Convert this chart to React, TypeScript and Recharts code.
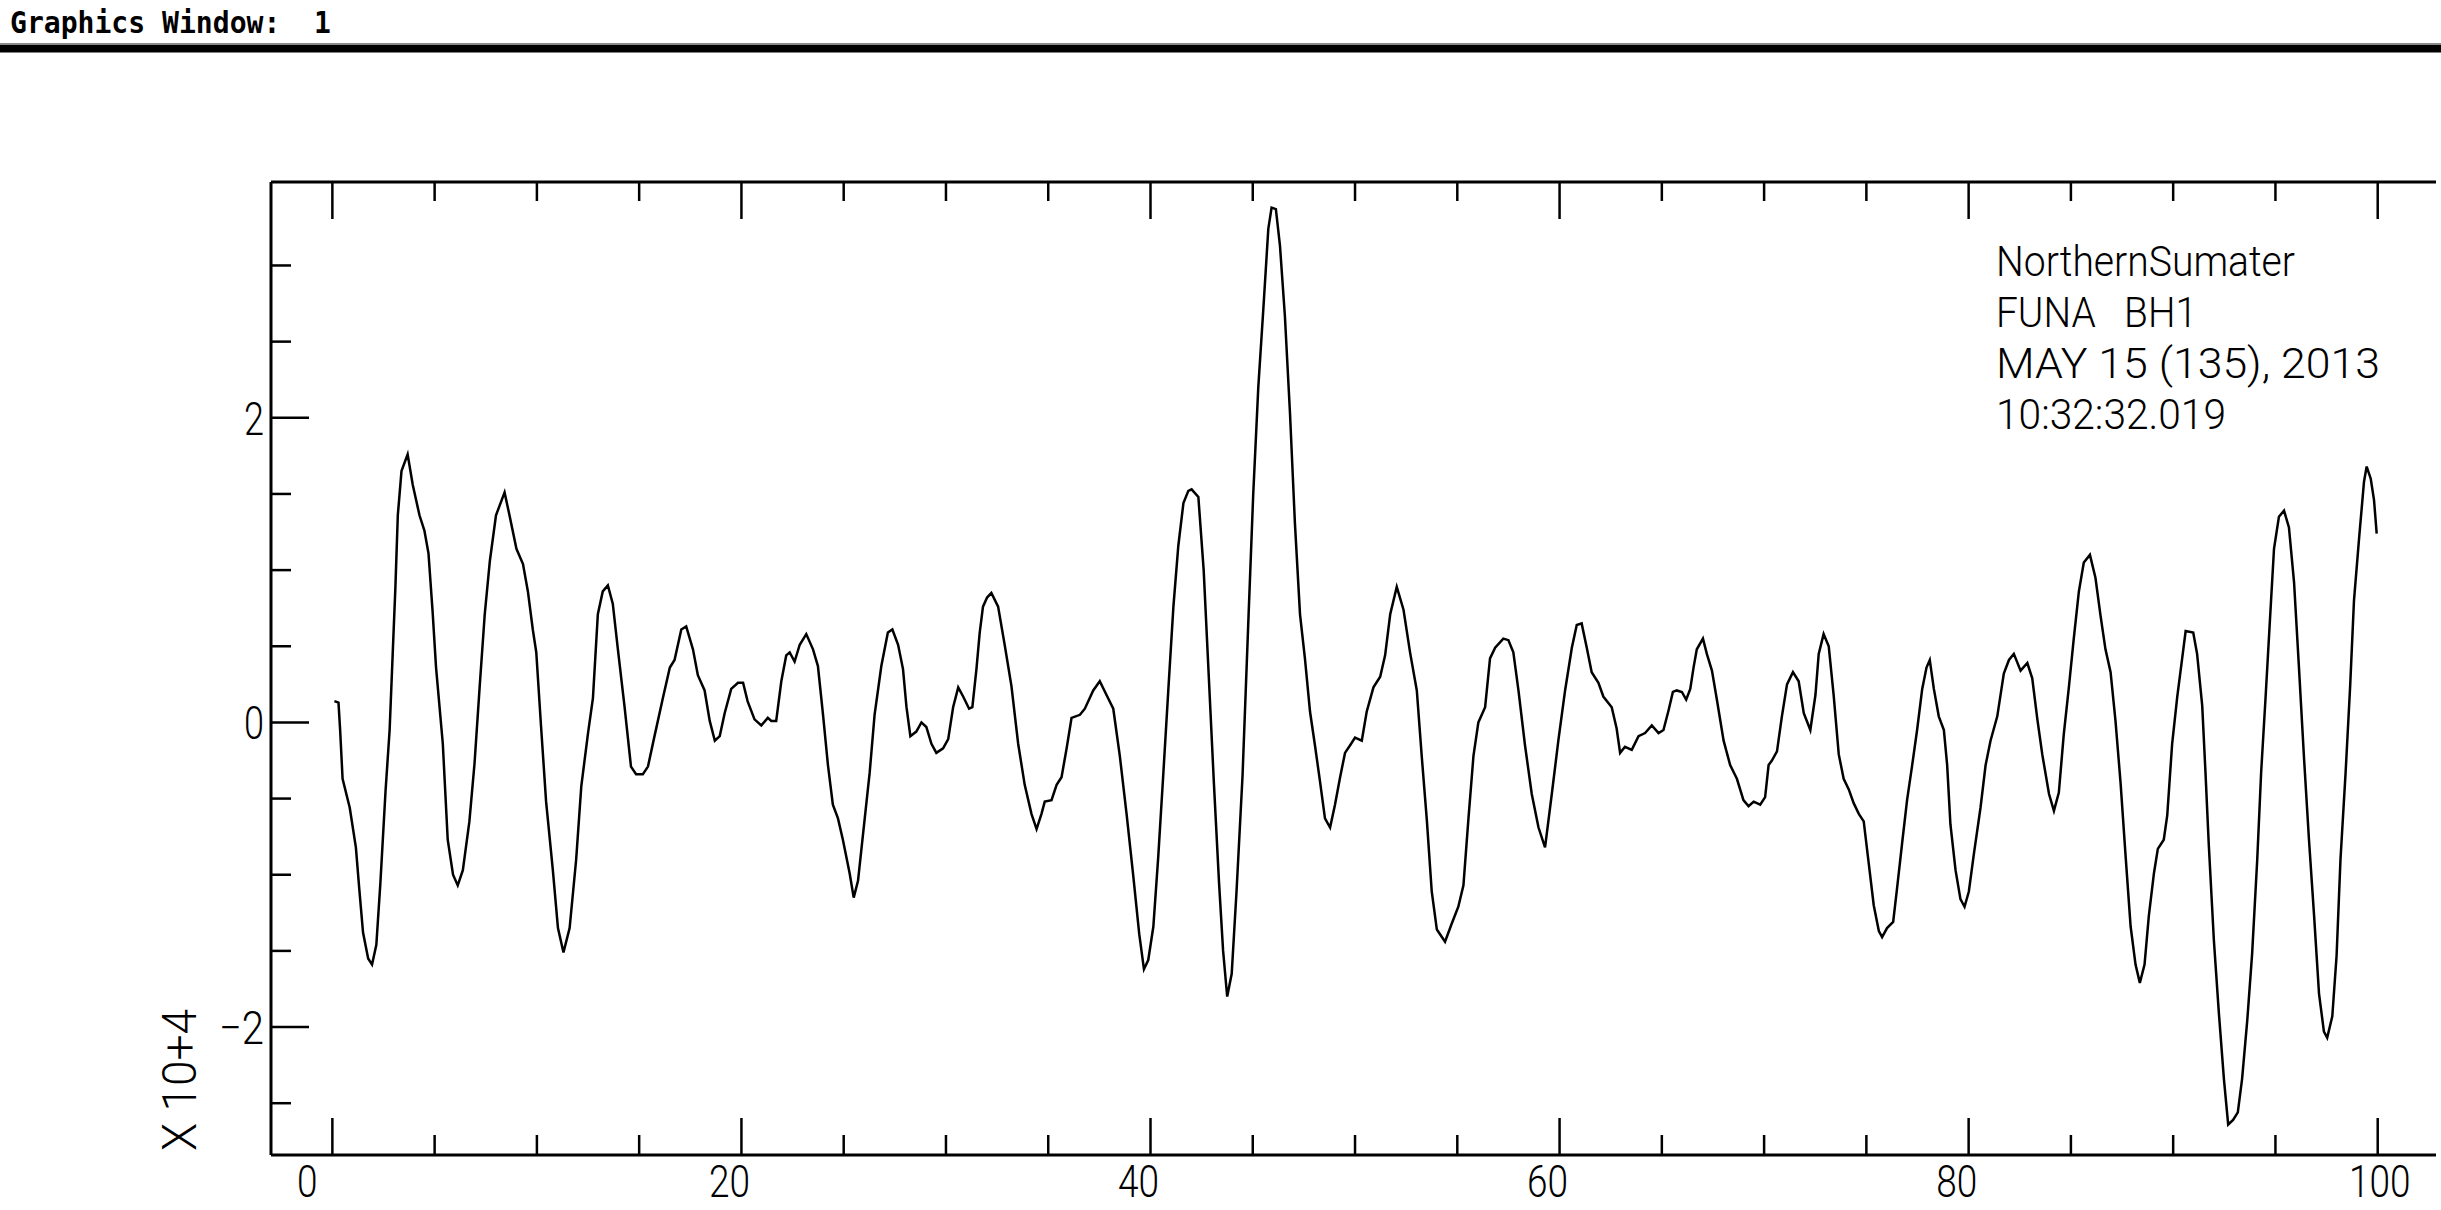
import React from "react";
import { LineChart, Line, XAxis, YAxis, Customized } from "recharts";

// seismogram trace: [time, amplitude x 10^4]
const TRACE_0_20: [number, number][] = [
  [0.1, 0.14], [0.3, 0.13], [0.38, -0.05], [0.5, -0.37], [0.85, -0.56], [1.15, -0.82],
  [1.32, -1.1], [1.5, -1.38], [1.75, -1.55], [1.94, -1.59], [2.15, -1.46], [2.35, -1.05],
  [2.6, -0.45], [2.8, -0.05], [2.95, 0.45], [3.08, 0.88], [3.2, 1.36], [3.38, 1.65],
  [3.68, 1.76], [3.93, 1.56], [4.26, 1.36], [4.5, 1.26], [4.7, 1.11], [4.9, 0.73],
  [5.07, 0.36], [5.4, -0.14], [5.64, -0.77], [5.9, -1.0], [6.13, -1.07], [6.38, -0.97],
  [6.7, -0.65], [6.95, -0.27], [7.2, 0.23], [7.45, 0.71], [7.7, 1.06], [8.0, 1.36],
  [8.42, 1.51], [8.66, 1.36], [9.0, 1.14], [9.32, 1.04], [9.56, 0.86], [9.8, 0.61],
  [9.97, 0.46], [10.2, -0.02], [10.45, -0.52], [10.78, -0.97], [11.03, -1.35], [11.3, -1.51],
  [11.6, -1.35], [11.92, -0.9], [12.17, -0.42], [12.5, -0.07], [12.74, 0.16], [12.98, 0.71],
  [13.22, 0.86], [13.47, 0.9], [13.71, 0.78], [13.96, 0.48], [14.28, 0.11], [14.6, -0.29],
  [14.85, -0.34], [15.18, -0.34], [15.43, -0.29], [15.75, -0.09], [16.16, 0.16], [16.5, 0.36],
  [16.73, 0.41], [17.06, 0.61], [17.3, 0.63], [17.63, 0.48], [17.87, 0.31], [18.2, 0.21],
  [18.45, 0.01], [18.7, -0.12], [18.94, -0.09], [19.18, 0.06], [19.5, 0.22], [19.83, 0.26],
  [20.08, 0.26], [20.3, 0.14],
];

const TRACE_20_42: [number, number][] = [
  [20.64, 0.02], [20.97, -0.02], [21.29, 0.03], [21.46, 0.01], [21.7, 0.01], [21.95, 0.27],
  [22.19, 0.44], [22.36, 0.46], [22.6, 0.4], [22.85, 0.51], [23.17, 0.58], [23.5, 0.48],
  [23.74, 0.37], [23.99, 0.05], [24.23, -0.28], [24.47, -0.54], [24.72, -0.63], [24.96, -0.77],
  [25.29, -0.99], [25.49, -1.15], [25.7, -1.04], [25.94, -0.74], [26.27, -0.33], [26.51, 0.05],
  [26.84, 0.37], [27.16, 0.59], [27.38, 0.61], [27.66, 0.51], [27.9, 0.35], [28.07, 0.1],
  [28.26, -0.09], [28.55, -0.06], [28.8, 0.0], [29.04, -0.03], [29.29, -0.14], [29.53, -0.2],
  [29.86, -0.17], [30.11, -0.11], [30.35, 0.1], [30.6, 0.23], [30.84, 0.17], [31.13, 0.09],
  [31.29, 0.1], [31.49, 0.35], [31.65, 0.59], [31.81, 0.76], [32.01, 0.82], [32.22, 0.85],
  [32.55, 0.76], [32.87, 0.51], [33.2, 0.24], [33.53, -0.14], [33.85, -0.41], [34.18, -0.6],
  [34.43, -0.7], [34.67, -0.6], [34.83, -0.52], [35.16, -0.51], [35.41, -0.41], [35.65, -0.36],
  [35.9, -0.17], [36.14, 0.03], [36.55, 0.05], [36.79, 0.09], [37.2, 0.21], [37.52, 0.27],
  [37.85, 0.18], [38.18, 0.09], [38.5, -0.22], [38.83, -0.6], [39.16, -1.01], [39.45, -1.39],
  [39.68, -1.62], [39.89, -1.56], [40.14, -1.34], [40.38, -0.88], [40.63, -0.33], [40.87, 0.21],
  [41.12, 0.76], [41.36, 1.16], [41.61, 1.44], [41.85, 1.52], [42.01, 1.53], [42.34, 1.48],
];

const TRACE_42_65: [number, number][] = [
  [42.6, 1.0], [42.85, 0.3], [43.1, -0.4], [43.35, -1.05], [43.55, -1.5], [43.75, -1.8],
  [43.97, -1.65], [44.21, -1.1], [44.5, -0.35], [44.78, 0.65], [45.02, 1.49], [45.27, 2.2],
  [45.51, 2.7], [45.76, 3.24], [45.92, 3.38], [46.13, 3.37], [46.33, 3.13], [46.57, 2.67],
  [46.82, 2.03], [47.06, 1.31], [47.31, 0.71], [47.55, 0.42], [47.8, 0.07], [48.04, -0.15],
  [48.29, -0.39], [48.53, -0.63], [48.78, -0.69], [49.02, -0.54], [49.27, -0.36], [49.51, -0.2],
  [49.76, -0.15], [50.0, -0.1], [50.33, -0.12], [50.57, 0.07], [50.9, 0.23], [51.23, 0.3],
  [51.47, 0.44], [51.72, 0.71], [52.04, 0.89], [52.37, 0.74], [52.69, 0.46], [53.02, 0.21],
  [53.26, -0.22], [53.51, -0.64], [53.75, -1.11], [54.0, -1.36], [54.4, -1.44], [54.73, -1.32],
  [55.05, -1.21], [55.3, -1.07], [55.54, -0.64], [55.79, -0.22], [56.03, 0.0], [56.36, 0.1],
  [56.6, 0.42], [56.85, 0.49], [57.25, 0.55], [57.5, 0.54], [57.74, 0.46], [57.99, 0.21],
  [58.31, -0.15], [58.64, -0.47], [58.97, -0.69], [59.29, -0.82], [59.62, -0.47], [59.94, -0.12],
  [60.27, 0.21], [60.6, 0.49], [60.84, 0.64], [61.08, 0.65], [61.33, 0.49], [61.57, 0.33],
  [61.9, 0.26], [62.14, 0.17], [62.55, 0.1], [62.79, -0.04], [62.96, -0.2], [63.2, -0.16],
  [63.53, -0.18], [63.86, -0.09], [64.18, -0.07], [64.51, -0.02], [64.84, -0.07], [65.08, -0.05],
];

const TRACE_65_84: [number, number][] = [
  [65.33, 0.08], [65.54, 0.2], [65.73, 0.21], [65.98, 0.2], [66.19, 0.15], [66.39, 0.22],
  [66.55, 0.36], [66.71, 0.48], [67.01, 0.55], [67.2, 0.45], [67.45, 0.34], [67.69, 0.15],
  [68.02, -0.12], [68.34, -0.28], [68.67, -0.37], [68.99, -0.51], [69.24, -0.55], [69.49, -0.52],
  [69.81, -0.54], [70.05, -0.49], [70.22, -0.28], [70.38, -0.25], [70.63, -0.19], [70.87, 0.04],
  [71.12, 0.25], [71.41, 0.33], [71.69, 0.27], [71.94, 0.06], [72.26, -0.05], [72.51, 0.18],
  [72.67, 0.45], [72.91, 0.58], [73.16, 0.5], [73.4, 0.18], [73.65, -0.21], [73.89, -0.37],
  [74.14, -0.44], [74.38, -0.53], [74.63, -0.6], [74.87, -0.65], [75.12, -0.93], [75.36, -1.2],
  [75.61, -1.37], [75.77, -1.41], [76.01, -1.35], [76.31, -1.31], [76.5, -1.09], [76.75, -0.79],
  [76.99, -0.51], [77.24, -0.28], [77.48, -0.05], [77.73, 0.22], [77.94, 0.36], [78.1, 0.41],
  [78.3, 0.22], [78.54, 0.04], [78.79, -0.05], [78.95, -0.28], [79.11, -0.67], [79.36, -0.97],
  [79.6, -1.16], [79.8, -1.21], [80.01, -1.11], [80.26, -0.86], [80.58, -0.56], [80.83, -0.28],
  [81.07, -0.12], [81.4, 0.04], [81.72, 0.32], [81.97, 0.41], [82.21, 0.45], [82.54, 0.34],
  [82.87, 0.39], [83.11, 0.29], [83.36, 0.02], [83.6, -0.21], [83.93, -0.47], [84.17, -0.58],
];

const TRACE_84_100: [number, number][] = [
  [84.41, -0.46], [84.65, -0.08], [84.9, 0.23], [85.14, 0.55], [85.39, 0.86], [85.63, 1.05],
  [85.93, 1.1], [86.2, 0.95], [86.45, 0.7], [86.69, 0.48], [86.94, 0.33], [87.18, 0.01],
  [87.43, -0.4], [87.67, -0.87], [87.92, -1.34], [88.16, -1.59], [88.37, -1.71], [88.6, -1.59],
  [88.81, -1.27], [89.06, -0.99], [89.25, -0.83], [89.54, -0.77], [89.71, -0.61], [89.95, -0.14],
  [90.2, 0.17], [90.44, 0.42], [90.61, 0.6], [90.98, 0.59], [91.17, 0.45], [91.42, 0.11],
  [91.58, -0.33], [91.74, -0.8], [91.99, -1.43], [92.23, -1.9], [92.48, -2.34], [92.69, -2.64],
  [92.93, -2.61], [93.16, -2.56], [93.37, -2.34], [93.62, -1.96], [93.86, -1.52], [94.11, -0.9],
  [94.3, -0.33], [94.52, 0.17], [94.73, 0.67], [94.93, 1.14], [95.17, 1.35], [95.42, 1.39],
  [95.66, 1.28], [95.91, 0.92], [96.15, 0.36], [96.4, -0.24], [96.64, -0.77], [96.89, -1.27],
  [97.13, -1.78], [97.37, -2.03], [97.53, -2.07], [97.78, -1.93], [97.99, -1.53], [98.18, -0.9],
  [98.43, -0.33], [98.65, 0.23], [98.84, 0.8], [99.09, 1.21], [99.33, 1.58], [99.46, 1.68],
  [99.66, 1.6], [99.82, 1.46], [99.95, 1.24],
];

const X_DOMAIN: [number, number] = [-3.0, 102.85];
const Y_DOMAIN: [number, number] = [-2.84, 3.548];
const X_TICKS = [0, 5, 10, 15, 20, 25, 30, 35, 40, 45, 50, 55, 60, 65, 70, 75, 80, 85, 90, 95, 100];
const X_LABELS = [0, 20, 40, 60, 80, 100];
const Y_TICKS = [-2.5, -2, -1.5, -1, -0.5, 0, 0.5, 1, 1.5, 2, 2.5, 3];
const Y_LABELS = [-2, 0, 2];

const STATION_LINES = ["NorthernSumater", "FUNA   BH1", "MAY 15 (135), 2013", "10:32:32.019"];
const WINDOW_TITLE = "Graphics Window:  1";
const Y_UNIT = "X 10+4";

const W = 2441;
const H = 1210;
const PLOT = { left: 271, right: 2436, top: 182, bottom: 1155 };
const FONT = "Roboto, 'Liberation Sans Narrow', sans-serif";

const data = [...TRACE_0_20, ...TRACE_20_42, ...TRACE_42_65, ...TRACE_65_84, ...TRACE_84_100].map(
  ([t, amp]) => ({ t, amp })
);

const fmtY = (v: number) => (v < 0 ? "\u2212" + Math.abs(v) : String(v));
// per-label horizontal nudge, the old plotter did not centre them exactly
const xNudge = (v: number) => (v === 0 ? -25 : v === 100 ? 2 : -12);

const tickProps = { stroke: "#000", strokeWidth: 2.5 };
const labelProps = {
  fontFamily: FONT,
  fontWeight: 300,
  fontSize: 47,
  fill: "#000",
  lengthAdjust: "spacingAndGlyphs" as const,
};

const BottomTick = (p: any) => {
  const v = p.payload.value;
  const major = X_LABELS.includes(v);
  const txt = String(v);
  return (
    <g>
      <line x1={p.x} x2={p.x} y1={PLOT.bottom} y2={PLOT.bottom - (major ? 37 : 20)} {...tickProps} />
      {major && (
        <text
          x={p.x + xNudge(v)}
          y={1197}
          textAnchor="middle"
          textLength={txt.length * 20.5}
          {...labelProps}
          fontSize={45}
        >
          {txt}
        </text>
      )}
    </g>
  );
};

const TopTick = (p: any) => {
  const major = X_LABELS.includes(p.payload.value);
  return <line x1={p.x} x2={p.x} y1={PLOT.top} y2={PLOT.top + (major ? 37 : 19)} {...tickProps} />;
};

const LeftTick = (p: any) => {
  const v = p.payload.value;
  const major = Y_LABELS.includes(v);
  const txt = fmtY(v);
  return (
    <g>
      <line x1={PLOT.left} x2={PLOT.left + (major ? 38 : 20)} y1={p.y} y2={p.y} {...tickProps} />
      {major && (
        <text x={264} y={p.y + 17} textAnchor="end" textLength={v < 0 ? 45 : 20} {...labelProps}>
          {txt}
        </text>
      )}
    </g>
  );
};

const RightTick = (p: any) => {
  const major = Y_LABELS.includes(p.payload.value);
  return <line x1={PLOT.right} x2={PLOT.right - (major ? 37 : 20)} y1={p.y} y2={p.y} {...tickProps} />;
};

const STATION_WIDTHS = [299, 201, 384, 230];

const Annotations = () => (
  <g>
    <text
      x={10}
      y={33}
      fontFamily="'DejaVu Sans Mono', monospace"
      fontWeight={700}
      fontSize={30}
      textLength={321}
      lengthAdjust="spacingAndGlyphs"
      style={{ whiteSpace: "pre" }}
      fill="#000"
    >
      {WINDOW_TITLE}
    </text>
    <rect x={0} y={43} width={W} height={2} fill="#8a8a8a" />
    <rect x={0} y={45} width={W} height={7.5} fill="#000" />

    {STATION_LINES.map((line, i) => (
      <text
        key={line}
        x={1996}
        y={276 + i * 51}
        textLength={STATION_WIDTHS[i]}
        style={{ whiteSpace: "pre" }}
        {...labelProps}
        fontSize={43}
      >
        {line}
      </text>
    ))}

    <text
      x={196}
      y={1080}
      transform="rotate(-90, 196, 1080)"
      textAnchor="middle"
      textLength={142}
      {...labelProps}
      fontSize={48}
    >
      {Y_UNIT}
    </text>
  </g>
);

export default function App() {
  return (
    <div style={{ position: "absolute", left: 0, top: 0, width: W, height: H, background: "#fff" }}>
      <LineChart
        width={W}
        height={H}
        data={data}
        margin={{ top: PLOT.top - 2, right: W - PLOT.right, bottom: 0, left: PLOT.left - 100 }}
      >
        <XAxis
          xAxisId="b"
          dataKey="t"
          type="number"
          orientation="bottom"
          domain={X_DOMAIN}
          allowDataOverflow
          ticks={X_TICKS}
          interval={0}
          height={H - PLOT.bottom}
          axisLine={{ stroke: "#000", strokeWidth: 3 }}
          tickLine={false}
          tick={BottomTick}
        />
        <XAxis
          xAxisId="t"
          dataKey="t"
          type="number"
          orientation="top"
          domain={X_DOMAIN}
          allowDataOverflow
          ticks={X_TICKS}
          interval={0}
          height={2}
          axisLine={{ stroke: "#000", strokeWidth: 3 }}
          tickLine={false}
          tick={TopTick}
        />
        <YAxis
          yAxisId="l"
          type="number"
          domain={Y_DOMAIN}
          allowDataOverflow
          ticks={Y_TICKS}
          interval={0}
          width={100}
          axisLine={{ stroke: "#000", strokeWidth: 3 }}
          tickLine={false}
          tick={LeftTick}
        />
        <YAxis
          yAxisId="r"
          orientation="right"
          type="number"
          domain={Y_DOMAIN}
          allowDataOverflow
          ticks={Y_TICKS}
          interval={0}
          width={0}
          axisLine={{ stroke: "#000", strokeWidth: 3 }}
          tickLine={false}
          tick={RightTick}
        />
        <Line
          xAxisId="b"
          yAxisId="l"
          dataKey="amp"
          type="linear"
          stroke="#000"
          strokeWidth={2.5}
          dot={false}
          activeDot={false}
          isAnimationActive={false}
        />
        <Customized component={Annotations} />
      </LineChart>
    </div>
  );
}
